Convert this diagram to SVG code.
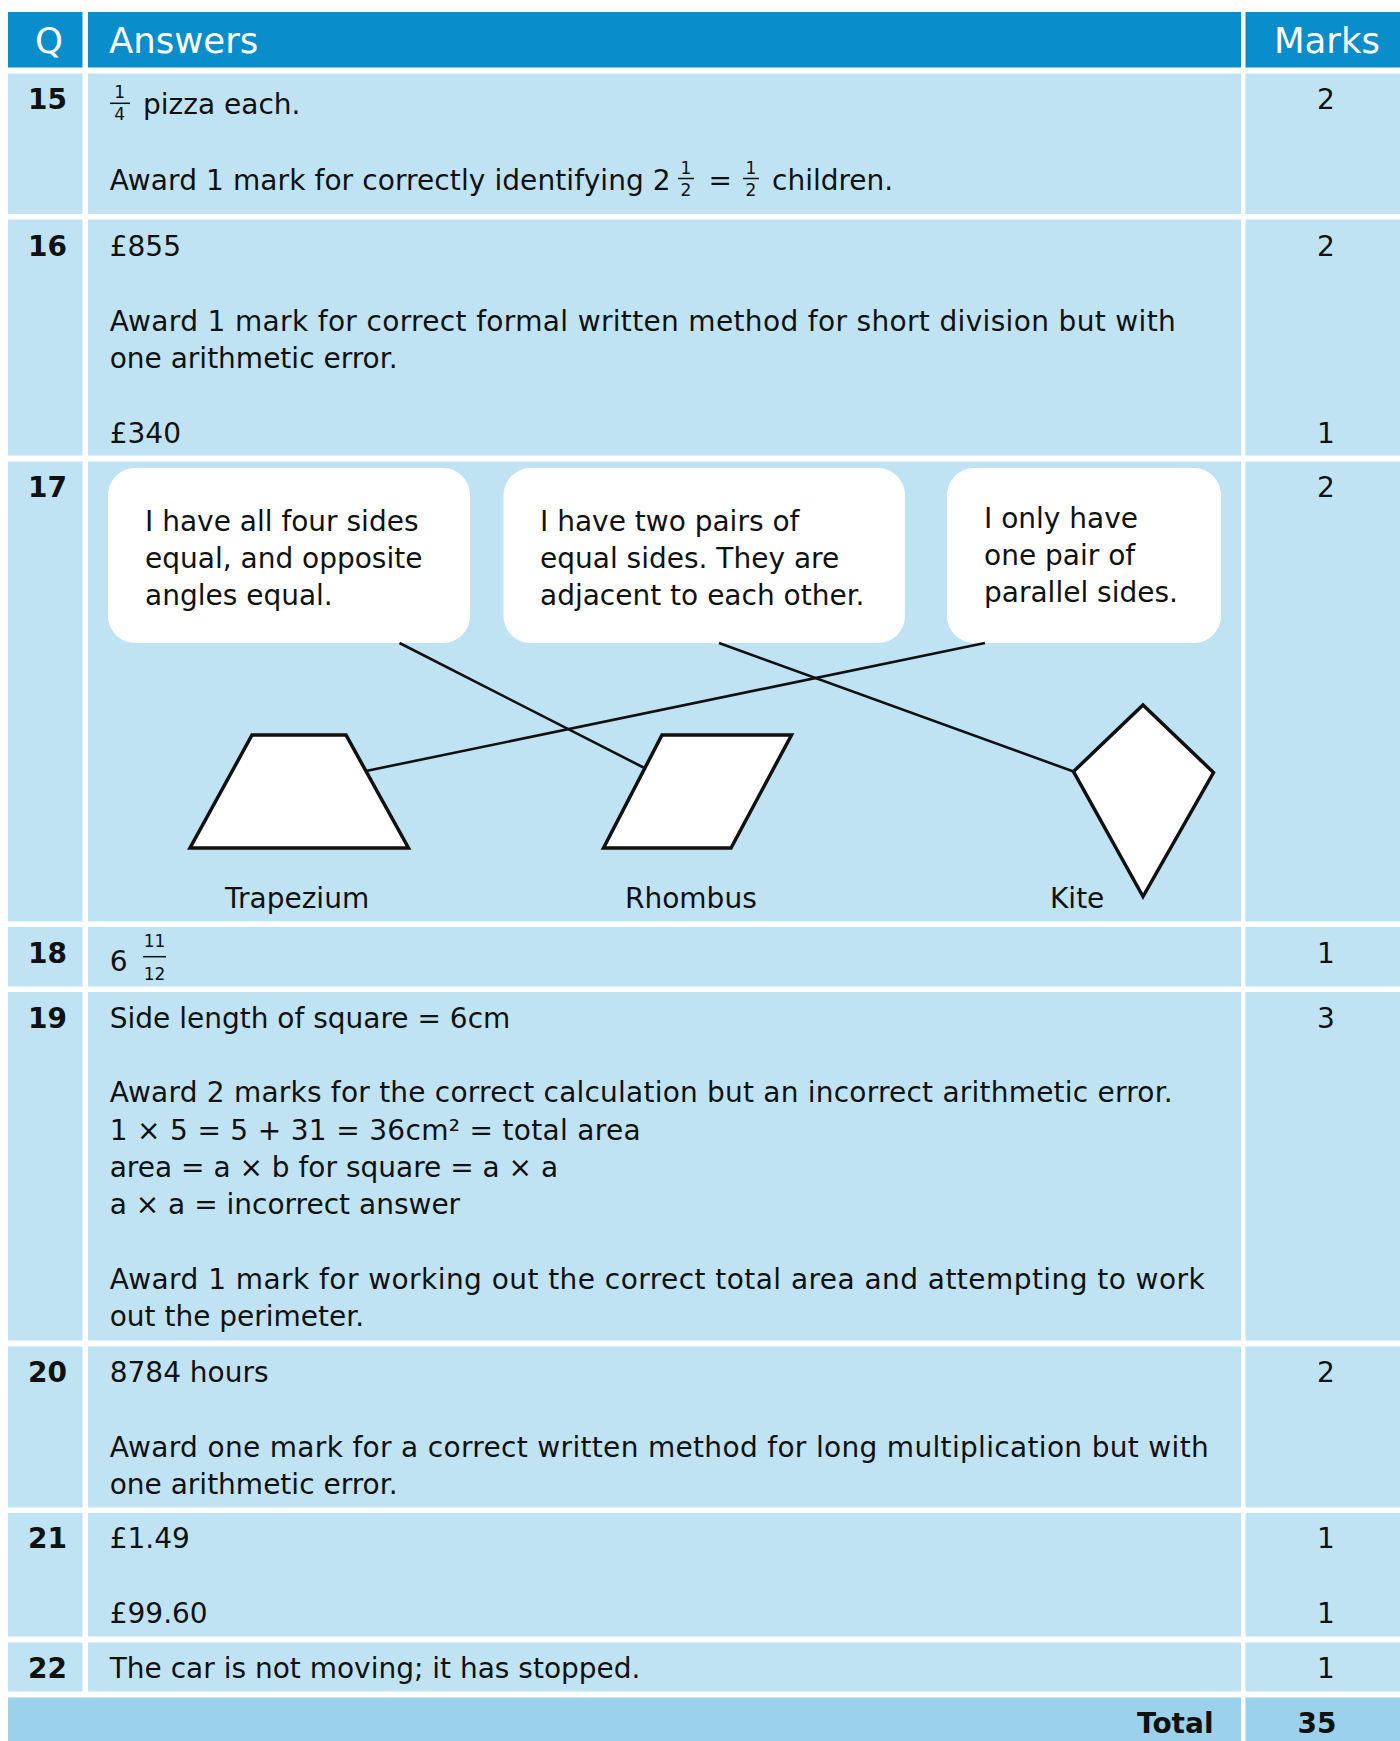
<svg xmlns="http://www.w3.org/2000/svg" width="1400" height="1741" viewBox="0 0 1400 1741">
<defs>
<style>
.hd{fill:#0A8DCB}
.row{fill:#C0E3F3}
.tot{fill:#9BD1EB}
text{font-family:"DejaVu Sans","Liberation Sans",sans-serif;fill:#111111}
.h{font-size:35.5px;fill:#FFFFFF}
.t{font-size:28px}
.b{font-size:28px;font-weight:bold}
.m{font-size:28px;text-anchor:middle}
.f{font-size:17px;text-anchor:middle}
.fl{stroke:#111111;stroke-width:1.5}
.bub{fill:#FFFFFF}
.shape{fill:#FFFFFF;stroke:#111;stroke-width:3.5;stroke-linejoin:miter}
.con{stroke:#111;stroke-width:2.6;fill:none}
</style>
</defs>
<rect x="0" y="0" width="1400" height="1741" fill="#FFFFFF"/>

<g id="header">
<rect class="hd" x="8" y="12" width="74.5" height="55.5"/>
<rect class="hd" x="88" y="12" width="1153" height="55.5"/>
<rect class="hd" x="1245.5" y="12" width="154.5" height="55.5"/>
<text class="h" x="49" y="53" text-anchor="middle">Q</text>
<text class="h" x="109" y="53">Answers</text>
<text class="h" x="1327" y="53" text-anchor="middle">Marks</text>
</g>

<g id="q15">
<rect class="row" x="8" y="73.5" width="74.5" height="140.5"/>
<rect class="row" x="88" y="73.5" width="1153" height="140.5"/>
<rect class="row" x="1245.5" y="73.5" width="154.5" height="140.5"/>
<text class="b" x="28" y="109">15</text>
<text class="f" x="119.7" y="98">1</text>
<line class="fl" x1="110" y1="103.3" x2="130" y2="103.3"/>
<text class="f" x="119.7" y="120">4</text>
<text class="t" x="143" y="114">pizza each.</text>
<text class="t" x="109.7" y="189.5" textLength="561" lengthAdjust="spacing">Award 1 mark for correctly identifying 2</text>
<text class="f" x="686" y="173.5">1</text>
<line class="fl" x1="678" y1="178.5" x2="694" y2="178.5"/>
<text class="f" x="686" y="195.5">2</text>
<text class="t" x="708.5" y="189.5">=</text>
<text class="f" x="751" y="173.5">1</text>
<line class="fl" x1="743" y1="178.5" x2="759" y2="178.5"/>
<text class="f" x="751" y="195.5">2</text>
<text class="t" x="772" y="189.5">children.</text>
<text class="m" x="1326" y="109">2</text>
</g>

<g id="q16">
<rect class="row" x="8" y="219.5" width="74.5" height="236"/>
<rect class="row" x="88" y="219.5" width="1153" height="236"/>
<rect class="row" x="1245.5" y="219.5" width="154.5" height="236"/>
<text class="b" x="28" y="255.5">16</text>
<text class="t" x="109.7" y="255.5">£855</text>
<text class="t" x="109.7" y="330.5" textLength="1066" lengthAdjust="spacing">Award 1 mark for correct formal written method for short division but with</text>
<text class="t" x="109.7" y="367.5">one arithmetic error.</text>
<text class="t" x="109.7" y="442.5">£340</text>
<text class="m" x="1326" y="255.5">2</text>
<text class="m" x="1326" y="442.5">1</text>
</g>

<g id="q17">
<rect class="row" x="8" y="461.5" width="74.5" height="460"/>
<rect class="row" x="88" y="461.5" width="1153" height="460"/>
<rect class="row" x="1245.5" y="461.5" width="154.5" height="460"/>
<text class="b" x="28" y="497">17</text>
<text class="m" x="1326" y="497">2</text>
</g>

<g id="bubble-rhombus">
<rect class="bub" x="108" y="468" width="362" height="175" rx="27" ry="27"/>
<text class="t" x="145" y="531">I have all four sides</text>
<text class="t" x="145" y="567.5">equal, and opposite</text>
<text class="t" x="145" y="604.5">angles equal.</text>
</g>
<g id="bubble-kite">
<rect class="bub" x="503.5" y="468" width="401.5" height="175" rx="27" ry="27"/>
<text class="t" x="540" y="531">I have two pairs of</text>
<text class="t" x="540" y="567.5">equal sides. They are</text>
<text class="t" x="540" y="604.5">adjacent to each other.</text>
</g>
<g id="bubble-trapezium">
<rect class="bub" x="947" y="468" width="274" height="175" rx="27" ry="27"/>
<text class="t" x="984" y="528">I only have</text>
<text class="t" x="984" y="565">one pair of</text>
<text class="t" x="984" y="601.5">parallel sides.</text>
</g>

<g id="trapezium">
<polygon class="shape" points="252,735 346,735 408.5,848 190,848"/>
<text class="t" x="225" y="908">Trapezium</text>
</g>
<g id="rhombus">
<polygon class="shape" points="662,735 791.5,735 731,848 603.5,848"/>
<text class="t" x="625" y="908">Rhombus</text>
</g>
<g id="kite">
<polygon class="shape" points="1143,705 1213.5,772.5 1143,896.5 1073.5,771.5"/>
<text class="t" x="1050" y="908">Kite</text>
</g>

<g id="connectors">
<line class="con" x1="399.5" y1="643" x2="644.5" y2="768"/>
<line class="con" x1="366" y1="771" x2="985" y2="643"/>
<line class="con" x1="719" y1="643" x2="1073.5" y2="771.5"/>
</g>

<g id="q18">
<rect class="row" x="8" y="927" width="74.5" height="59.5"/>
<rect class="row" x="88" y="927" width="1153" height="59.5"/>
<rect class="row" x="1245.5" y="927" width="154.5" height="59.5"/>
<text class="b" x="28" y="963">18</text>
<text class="t" x="109.7" y="971">6</text>
<text class="f" x="154.5" y="947">11</text>
<line class="fl" x1="143" y1="956.7" x2="166" y2="956.7"/>
<text class="f" x="154.5" y="980">12</text>
<text class="m" x="1326" y="963">1</text>
</g>

<g id="q19">
<rect class="row" x="8" y="992" width="74.5" height="348.5"/>
<rect class="row" x="88" y="992" width="1153" height="348.5"/>
<rect class="row" x="1245.5" y="992" width="154.5" height="348.5"/>
<text class="b" x="28" y="1028">19</text>
<text class="t" x="109.7" y="1028">Side length of square = 6cm</text>
<text class="t" x="109.7" y="1102" textLength="1063" lengthAdjust="spacing">Award 2 marks for the correct calculation but an incorrect arithmetic error.</text>
<text class="t" x="109.7" y="1139.5" textLength="531" lengthAdjust="spacing">1 × 5 = 5 + 31 = 36cm² = total area</text>
<text class="t" x="109.7" y="1177">area = a × b for square = a × a</text>
<text class="t" x="109.7" y="1214">a × a = incorrect answer</text>
<text class="t" x="109.7" y="1289" textLength="1095" lengthAdjust="spacing">Award 1 mark for working out the correct total area and attempting to work</text>
<text class="t" x="109.7" y="1326">out the perimeter.</text>
<text class="m" x="1326" y="1028">3</text>
</g>

<g id="q20">
<rect class="row" x="8" y="1346.5" width="74.5" height="161"/>
<rect class="row" x="88" y="1346.5" width="1153" height="161"/>
<rect class="row" x="1245.5" y="1346.5" width="154.5" height="161"/>
<text class="b" x="28" y="1382">20</text>
<text class="t" x="109.7" y="1382">8784 hours</text>
<text class="t" x="109.7" y="1457" textLength="1099" lengthAdjust="spacing">Award one mark for a correct written method for long multiplication but with</text>
<text class="t" x="109.7" y="1494">one arithmetic error.</text>
<text class="m" x="1326" y="1382">2</text>
</g>

<g id="q21">
<rect class="row" x="8" y="1513" width="74.5" height="123.5"/>
<rect class="row" x="88" y="1513" width="1153" height="123.5"/>
<rect class="row" x="1245.5" y="1513" width="154.5" height="123.5"/>
<text class="b" x="28" y="1548">21</text>
<text class="t" x="109.7" y="1548">£1.49</text>
<text class="t" x="109.7" y="1623">£99.60</text>
<text class="m" x="1326" y="1548">1</text>
<text class="m" x="1326" y="1623">1</text>
</g>

<g id="q22">
<rect class="row" x="8" y="1642.5" width="74.5" height="49"/>
<rect class="row" x="88" y="1642.5" width="1153" height="49"/>
<rect class="row" x="1245.5" y="1642.5" width="154.5" height="49"/>
<text class="b" x="28" y="1678">22</text>
<text class="t" x="109.7" y="1678">The car is not moving; it has stopped.</text>
<text class="m" x="1326" y="1678">1</text>
</g>

<g id="total">
<rect class="tot" x="8" y="1697.5" width="1233" height="43.5"/>
<rect class="tot" x="1245.5" y="1697.5" width="154.5" height="43.5"/>
<text class="b" x="1213.5" y="1733" text-anchor="end">Total</text>
<text class="b" x="1317" y="1733" text-anchor="middle">35</text>
</g>
</svg>
